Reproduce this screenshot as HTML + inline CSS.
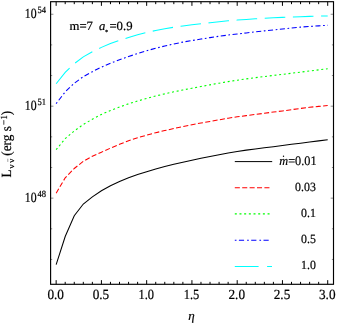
<!DOCTYPE html>
<html><head><meta charset="utf-8"><title>plot</title>
<style>
html,body{margin:0;padding:0;background:#fff;}
body{width:337px;height:327px;overflow:hidden;}
svg{display:block;will-change:transform;}
text{font-family:"Liberation Serif",serif;fill:#000;stroke:#000;stroke-width:0.2px;text-rendering:geometricPrecision;}
</style></head><body>
<svg width="337" height="327" viewBox="0 0 337 327">
<rect x="0" y="0" width="337" height="327" fill="#fff"/>
<path d="M56.15 264.60 L65.20 236.50 L74.25 215.70 L83.31 204.00 L92.36 196.90 L101.41 190.72 L110.46 185.73 L119.51 181.50 L128.57 177.85 L137.62 174.61 L146.67 171.64 L155.72 168.98 L164.77 166.54 L173.83 164.28 L182.88 162.24 L191.93 160.29 L200.98 158.36 L210.03 156.47 L219.09 154.66 L228.14 152.94 L237.19 151.44 L246.24 150.14 L255.29 148.98 L264.35 147.80 L273.40 146.65 L282.45 145.49 L291.50 144.32 L300.55 143.17 L309.61 142.04 L318.66 140.88 L327.71 139.69" fill="none" stroke="#000" stroke-width="1.05" stroke-linejoin="miter"/>
<path d="M56.15 193.20 L65.20 177.80 L74.25 168.50 L83.31 161.30 L92.36 156.20 L101.41 152.16 L110.46 148.12 L119.51 144.31 L128.57 140.81 L137.62 137.80 L146.67 135.18 L155.72 132.70 L164.77 130.58 L173.83 128.50 L182.88 126.50 L191.93 124.66 L200.98 122.98 L210.03 121.44 L219.09 119.80 L228.14 118.21 L237.19 116.83 L246.24 115.64 L255.29 114.47 L264.35 113.29 L273.40 112.04 L282.45 110.91 L291.50 109.68 L300.55 108.42 L309.61 107.26 L318.66 106.37 L327.71 105.58" fill="none" stroke="#ff0000" stroke-width="1.05" stroke-dasharray="5.07 2.37" stroke-linejoin="miter"/>
<path d="M56.15 149.71 L65.20 138.66 L74.25 130.95 L83.31 124.52 L92.36 119.20 L101.41 114.43 L110.46 110.46 L119.51 107.03 L128.57 103.80 L137.62 101.01 L146.67 98.49 L155.72 95.95 L164.77 93.84 L173.83 91.83 L182.88 89.97 L191.93 88.21 L200.98 86.54 L210.03 84.84 L219.09 83.17 L228.14 81.60 L237.19 80.18 L246.24 78.91 L255.29 77.72 L264.35 76.57 L273.40 75.45 L282.45 74.34 L291.50 73.24 L300.55 72.14 L309.61 71.02 L318.66 69.89 L327.71 68.75" fill="none" stroke="#00ff00" stroke-width="1.10" stroke-dasharray="2.0 2.72" stroke-linejoin="miter"/>
<path d="M56.15 103.57 L65.20 91.89 L74.25 83.23 L83.31 76.67 L92.36 71.73 L101.41 67.09 L110.46 63.28 L119.51 59.76 L128.57 56.53 L137.62 53.53 L146.67 50.76 L155.72 48.24 L164.77 45.96 L173.83 43.92 L182.88 42.10 L191.93 40.55 L200.98 39.08 L210.03 37.62 L219.09 36.23 L228.14 35.03 L237.19 34.01 L246.24 32.95 L255.29 31.86 L264.35 30.84 L273.40 29.95 L282.45 29.01 L291.50 28.04 L300.55 27.14 L309.61 26.46 L318.66 25.83 L327.71 25.27" fill="none" stroke="#0000ff" stroke-width="1.10" stroke-dasharray="1.7 2.5 5.1 2.6" stroke-linejoin="miter"/>
<path d="M56.15 83.72 L65.20 72.44 L74.25 63.65 L83.31 56.85 L92.36 51.68 L101.41 47.39 L110.46 43.54 L119.51 40.31 L128.57 37.42 L137.62 34.80 L146.67 32.49 L155.72 30.46 L164.77 28.72 L173.83 27.25 L182.88 26.03 L191.93 24.81 L200.98 23.67 L210.03 22.69 L219.09 21.74 L228.14 20.84 L237.19 20.10 L246.24 19.46 L255.29 18.85 L264.35 18.27 L273.40 17.77 L282.45 17.36 L291.50 16.98 L300.55 16.65 L309.61 16.38 L318.66 16.14 L327.71 15.91" fill="none" stroke="#00ffff" stroke-width="1.05" stroke-dasharray="20.6 7.6" stroke-linejoin="miter"/>
<path d="M56.15 1.70 V5.85 M56.15 284.30 V280.15 M65.20 1.70 V4.15 M65.20 284.30 V281.85 M74.25 1.70 V4.15 M74.25 284.30 V281.85 M83.31 1.70 V4.15 M83.31 284.30 V281.85 M92.36 1.70 V4.15 M92.36 284.30 V281.85 M101.41 1.70 V5.85 M101.41 284.30 V280.15 M110.46 1.70 V4.15 M110.46 284.30 V281.85 M119.51 1.70 V4.15 M119.51 284.30 V281.85 M128.57 1.70 V4.15 M128.57 284.30 V281.85 M137.62 1.70 V4.15 M137.62 284.30 V281.85 M146.67 1.70 V5.85 M146.67 284.30 V280.15 M155.72 1.70 V4.15 M155.72 284.30 V281.85 M164.77 1.70 V4.15 M164.77 284.30 V281.85 M173.83 1.70 V4.15 M173.83 284.30 V281.85 M182.88 1.70 V4.15 M182.88 284.30 V281.85 M191.93 1.70 V5.85 M191.93 284.30 V280.15 M200.98 1.70 V4.15 M200.98 284.30 V281.85 M210.03 1.70 V4.15 M210.03 284.30 V281.85 M219.09 1.70 V4.15 M219.09 284.30 V281.85 M228.14 1.70 V4.15 M228.14 284.30 V281.85 M237.19 1.70 V5.85 M237.19 284.30 V280.15 M246.24 1.70 V4.15 M246.24 284.30 V281.85 M255.29 1.70 V4.15 M255.29 284.30 V281.85 M264.35 1.70 V4.15 M264.35 284.30 V281.85 M273.40 1.70 V4.15 M273.40 284.30 V281.85 M282.45 1.70 V5.85 M282.45 284.30 V280.15 M291.50 1.70 V4.15 M291.50 284.30 V281.85 M300.55 1.70 V4.15 M300.55 284.30 V281.85 M309.61 1.70 V4.15 M309.61 284.30 V281.85 M318.66 1.70 V4.15 M318.66 284.30 V281.85 M327.71 1.70 V5.85 M327.71 284.30 V280.15" fill="none" stroke="#000" stroke-width="1.00"/>
<path d="M50.60 259.45 H52.20 M333.50 259.45 H331.90 M50.60 228.80 H52.20 M333.50 228.80 H331.90 M50.60 198.15 H53.40 M333.50 198.15 H330.70 M50.60 167.50 H52.20 M333.50 167.50 H331.90 M50.60 136.85 H52.20 M333.50 136.85 H331.90 M50.60 106.20 H53.40 M333.50 106.20 H330.70 M50.60 75.55 H52.20 M333.50 75.55 H331.90 M50.60 44.90 H52.20 M333.50 44.90 H331.90 M50.60 14.25 H53.40 M333.50 14.25 H330.70" fill="none" stroke="#000" stroke-width="0.45"/>
<rect x="50.60" y="1.70" width="282.90" height="282.60" fill="none" stroke="#000" stroke-width="1.15"/>
<text transform="translate(55.70 298.60) scale(0.945 1)" font-size="14" text-anchor="middle">0.0</text>
<text transform="translate(100.96 298.60) scale(0.945 1)" font-size="14" text-anchor="middle">0.5</text>
<text transform="translate(146.22 298.60) scale(0.890 1)" font-size="14" text-anchor="middle">1.0</text>
<text transform="translate(191.48 298.60) scale(0.890 1)" font-size="14" text-anchor="middle">1.5</text>
<text transform="translate(236.74 298.60) scale(0.945 1)" font-size="14" text-anchor="middle">2.0</text>
<text transform="translate(282.00 298.60) scale(0.945 1)" font-size="14" text-anchor="middle">2.5</text>
<text transform="translate(327.26 298.60) scale(0.945 1)" font-size="14" text-anchor="middle">3.0</text>
<text transform="translate(36.60 18.05) scale(0.840 1)" font-size="14" text-anchor="end">10</text>
<text transform="translate(37.50 12.85) scale(0.900 1)" font-size="9.5">54</text>
<text transform="translate(36.60 110.00) scale(0.840 1)" font-size="14" text-anchor="end">10</text>
<text transform="translate(37.50 104.80) scale(0.900 1)" font-size="9.5">51</text>
<text transform="translate(36.60 201.95) scale(0.840 1)" font-size="14" text-anchor="end">10</text>
<text transform="translate(37.50 196.75) scale(0.900 1)" font-size="9.5">48</text>
<text transform="translate(191.40 320.00) scale(1.000 1)" font-size="13" text-anchor="middle" font-style="italic">η</text>
<g transform="translate(11.3 177.7) rotate(-90)"><text transform="translate(0.30 0.00) scale(0.930 1)" font-size="14">L</text>
<text transform="translate(9.20 2.80) scale(1.050 1)" font-size="8.5">ν</text>
<text transform="translate(15.00 2.80) scale(1.050 1)" font-size="8.5">ν</text>
<path d="M15.8 -3.5 H19.0" stroke="#000" stroke-width="0.7" stroke-opacity="0.55"/><text transform="translate(22.00 0.00) scale(0.945 1)" font-size="14">(erg s</text>
<text transform="translate(52.80 -4.70) scale(0.950 1)" font-size="9.5">−</text>
<text transform="translate(58.20 -4.70) scale(0.900 1)" font-size="9.5">1</text>
<text transform="translate(62.50 0.00) scale(0.945 1)" font-size="14">)</text>
</g>
<text transform="translate(69.50 30.40) scale(1.020 1)" font-size="12.5">m=7</text>
<text transform="translate(99.00 30.40) scale(1.020 1)" font-size="12.5" font-style="italic">a</text>
<text transform="translate(104.90 33.90) scale(1.000 1)" font-size="6.5">*</text>
<text transform="translate(109.40 30.40) scale(1.020 1)" font-size="12.5">=0.9</text>
<path d="M234.8 161.60 H272.2" stroke="#000" stroke-width="1.0" fill="none"/>
<path d="M234.8 187.80 H269.7" stroke="#ff0000" stroke-width="1.05" stroke-dasharray="5.05 2.35" fill="none"/>
<path d="M234.8 213.90 H269.7" stroke="#00ff00" stroke-width="1.1" stroke-dasharray="2.0 2.68" fill="none"/>
<path d="M234.8 240.20 H269.7" stroke="#0000ff" stroke-width="1.1" stroke-dasharray="1.7 2.4 5.2 3.0" fill="none"/>
<path d="M234.8 266.40 H258.6 M267.1 266.40 H272.0" stroke="#00ffff" stroke-width="1.05" fill="none"/>
<text transform="translate(316.60 164.60) scale(0.946 1)" font-size="13" text-anchor="end">=0.01</text>
<text transform="translate(315.80 190.80) scale(0.946 1)" font-size="12.5" text-anchor="end">0.03</text>
<text transform="translate(315.80 216.90) scale(0.946 1)" font-size="12.5" text-anchor="end">0.1</text>
<text transform="translate(315.80 243.20) scale(0.946 1)" font-size="12.5" text-anchor="end">0.5</text>
<text transform="translate(315.80 269.40) scale(0.946 1)" font-size="12.5" text-anchor="end">1.0</text>
<text transform="translate(279.20 164.60) scale(0.946 1)" font-size="13" font-style="italic">m</text>
<circle cx="283.5" cy="156.20" r="0.7" fill="#000"/>
</svg>
</body></html>
